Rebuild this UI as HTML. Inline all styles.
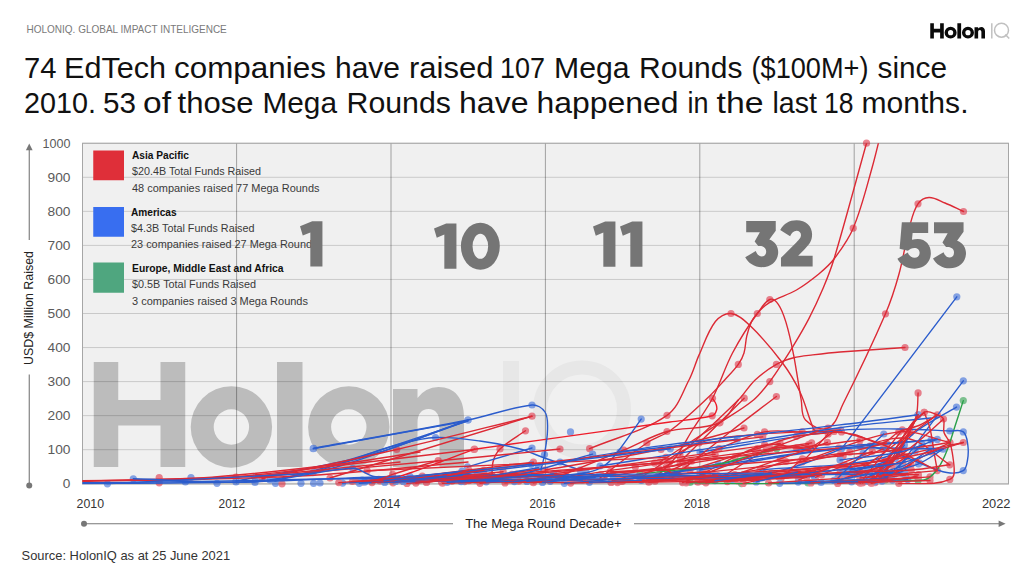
<!DOCTYPE html>
<html><head><meta charset="utf-8"><title>HolonIQ Mega Rounds</title>
<style>
html,body{margin:0;padding:0;background:#fff;}
body{width:1024px;height:576px;overflow:hidden;font-family:"Liberation Sans",sans-serif;}
svg{display:block;font-family:"Liberation Sans",sans-serif;}
</style></head><body>
<svg width="1024" height="576" viewBox="0 0 1024 576">

<rect width="1024" height="576" fill="#ffffff"/>
<!-- header -->
<text x="26.5" y="33.3" font-size="10.6" fill="#7a7a7a" textLength="200.3" lengthAdjust="spacingAndGlyphs">HOLONIQ. GLOBAL IMPACT INTELIGENCE</text>
<path fill="#0a0a0a" transform="translate(916.387,-28.759) scale(0.1479,0.1438)" fill-rule="evenodd" d="M93.75,362h24.5v38h42.25v-38h24.75v105h-24.75v-41.5h-42.25v41.5h-24.5z
M277,362h25.5v105h-25.5z
M393,389h24.5v9a27,27 0 0 1 21,-11c16,0 25.5,11 25.5,30v50h-24.5v-44c0,-9 -4,-14 -11,-14c-7,0 -11,5 -11,14v44h-24.5z
M190.7,427a40.7,40.7 0 1 0 81.4,0a40.7,40.7 0 1 0 -81.4,0zM213.7,427a17.7,17.7 0 1 0 35.4,0a17.7,17.7 0 1 0 -35.4,0z
M308.1,427a40.7,40.7 0 1 0 81.4,0a40.7,40.7 0 1 0 -81.4,0zM331.1,427a17.7,17.7 0 1 0 35.4,0a17.7,17.7 0 1 0 -35.4,0z"/>
<g fill="none" stroke="#c0c0c0" stroke-width="1.5"><line x1="991.8" y1="23.3" x2="991.8" y2="38.4"/><circle cx="1001.5" cy="30.2" r="7"/><line x1="1005.3" y1="34.6" x2="1009.2" y2="38.6"/></g>
<!-- title -->
<g font-size="30.2" fill="#111"><text x="24.0" y="78" textLength="32.5" lengthAdjust="spacingAndGlyphs">74</text><text x="64.0" y="78" textLength="102.0" lengthAdjust="spacingAndGlyphs">EdTech</text><text x="174.0" y="78" textLength="152.0" lengthAdjust="spacingAndGlyphs">companies</text><text x="335.0" y="78" textLength="65.0" lengthAdjust="spacingAndGlyphs">have</text><text x="409.0" y="78" textLength="84.5" lengthAdjust="spacingAndGlyphs">raised</text><text x="500.0" y="78" textLength="45.0" lengthAdjust="spacingAndGlyphs">107</text><text x="554.0" y="78" textLength="75.5" lengthAdjust="spacingAndGlyphs">Mega</text><text x="639.0" y="78" textLength="103.5" lengthAdjust="spacingAndGlyphs">Rounds</text><text x="751.5" y="78" textLength="117.0" lengthAdjust="spacingAndGlyphs">($100M+)</text><text x="877.5" y="78" textLength="69.5" lengthAdjust="spacingAndGlyphs">since</text><text x="24.0" y="113" textLength="72.0" lengthAdjust="spacingAndGlyphs">2010.</text><text x="103.0" y="113" textLength="33.0" lengthAdjust="spacingAndGlyphs">53</text><text x="143.0" y="113" textLength="28.0" lengthAdjust="spacingAndGlyphs">of</text><text x="177.5" y="113" textLength="76.0" lengthAdjust="spacingAndGlyphs">those</text><text x="262.5" y="113" textLength="74.5" lengthAdjust="spacingAndGlyphs">Mega</text><text x="346.5" y="113" textLength="104.5" lengthAdjust="spacingAndGlyphs">Rounds</text><text x="459.0" y="113" textLength="69.5" lengthAdjust="spacingAndGlyphs">have</text><text x="536.5" y="113" textLength="142.0" lengthAdjust="spacingAndGlyphs">happened</text><text x="687.5" y="113" textLength="21.0" lengthAdjust="spacingAndGlyphs">in</text><text x="716.5" y="113" textLength="47.0" lengthAdjust="spacingAndGlyphs">the</text><text x="772.5" y="113" textLength="44.5" lengthAdjust="spacingAndGlyphs">last</text><text x="824.0" y="113" textLength="29.5" lengthAdjust="spacingAndGlyphs">18</text><text x="861.5" y="113" textLength="107.0" lengthAdjust="spacingAndGlyphs">months.</text></g>
<!-- plot -->
<rect x="82.5" y="143.25" width="926" height="340.75" fill="#f0f0f0"/>

<!-- watermark -->
<g id="wm">
<path fill="#bcbcbc" fill-rule="evenodd" d="M93.75,362h24.5v38h42.25v-38h24.75v105h-24.75v-41.5h-42.25v41.5h-24.5z
M277,362h25.5v105h-25.5z
M393,389h24.5v9a27,27 0 0 1 21,-11c16,0 25.5,11 25.5,30v50h-24.5v-44c0,-9 -4,-14 -11,-14c-7,0 -11,5 -11,14v44h-24.5z
M190.7,427a40.7,40.7 0 1 0 81.4,0a40.7,40.7 0 1 0 -81.4,0zM213.7,427a17.7,17.7 0 1 0 35.4,0a17.7,17.7 0 1 0 -35.4,0z
M308.1,427a40.7,40.7 0 1 0 81.4,0a40.7,40.7 0 1 0 -81.4,0zM331.1,427a17.7,17.7 0 1 0 35.4,0a17.7,17.7 0 1 0 -35.4,0z"/>
<g fill="none" stroke="#e7e7e7">
<line x1="511" y1="361" x2="511" y2="467" stroke-width="16"/>
<circle cx="582" cy="409.5" r="42" stroke-width="14"/>
<line x1="606" y1="436" x2="632" y2="464" stroke-width="13"/>
</g>
</g>
<g stroke="#000" stroke-opacity="0.16" stroke-width="1">
<line x1="82.50" x2="1008.50" y1="483.75" y2="483.75"/>
<line x1="82.50" x2="1008.50" y1="449.70" y2="449.70"/>
<line x1="82.50" x2="1008.50" y1="415.65" y2="415.65"/>
<line x1="82.50" x2="1008.50" y1="381.60" y2="381.60"/>
<line x1="82.50" x2="1008.50" y1="347.55" y2="347.55"/>
<line x1="82.50" x2="1008.50" y1="313.50" y2="313.50"/>
<line x1="82.50" x2="1008.50" y1="279.45" y2="279.45"/>
<line x1="82.50" x2="1008.50" y1="245.40" y2="245.40"/>
<line x1="82.50" x2="1008.50" y1="211.35" y2="211.35"/>
<line x1="82.50" x2="1008.50" y1="177.30" y2="177.30"/>
<line x1="82.50" x2="1008.50" y1="143.25" y2="143.25"/>
</g>
<g stroke="#000" stroke-opacity="0.33" stroke-width="1">
<line x1="236.60" x2="236.60" y1="143.25" y2="484.00"/>
<line x1="391.00" x2="391.00" y1="143.25" y2="484.00"/>
<line x1="545.40" x2="545.40" y1="143.25" y2="484.00"/>
<line x1="699.80" x2="699.80" y1="143.25" y2="484.00"/>
<line x1="854.20" x2="854.20" y1="143.25" y2="484.00"/>
</g>
<rect x="82.5" y="143.25" width="926" height="340.75" fill="none" stroke="#a6a6a6" stroke-width="1"/>
<!-- legend -->
<rect x="93.25" y="150.5" width="30.75" height="29.75" fill="#df2f39"/>
<rect x="93.25" y="207" width="30.75" height="29.75" fill="#386ef0"/>
<rect x="93.25" y="262.5" width="30.75" height="30.25" fill="#4fa67f"/>
<g font-size="10.2" fill="#3a3a3a">
<text x="132" y="159.3" font-weight="bold" fill="#111" textLength="57" lengthAdjust="spacingAndGlyphs">Asia Pacific</text>
<text x="132" y="175" textLength="129" lengthAdjust="spacingAndGlyphs">$20.4B Total Funds Raised</text>
<text x="132" y="191.7" textLength="187.5" lengthAdjust="spacingAndGlyphs">48 companies raised 77 Mega Rounds</text>
<text x="131" y="215.7" font-weight="bold" fill="#111" textLength="45.5" lengthAdjust="spacingAndGlyphs">Americas</text>
<text x="131" y="232" textLength="123.5" lengthAdjust="spacingAndGlyphs">$4.3B Total Funds Raised</text>
<text x="131" y="248" textLength="186.5" lengthAdjust="spacingAndGlyphs">23 companies raised 27 Mega Rounds</text>
<text x="132" y="271.8" font-weight="bold" fill="#111" textLength="151.5" lengthAdjust="spacingAndGlyphs">Europe, Middle East and Africa</text>
<text x="132" y="288" textLength="124" lengthAdjust="spacingAndGlyphs">$0.5B Total Funds Raised</text>
<text x="132" y="304.5" textLength="176" lengthAdjust="spacingAndGlyphs">3 companies raised 3 Mega Rounds</text>
</g>
<!-- data -->
<clipPath id="cp"><rect x="82.5" y="143.25" width="926" height="341.2"/></clipPath>
<g opacity="0.55">
<circle cx="589.6" cy="448.7" r="3.6" fill="#de2238"/>
<circle cx="667.0" cy="415.3" r="3.6" fill="#de2238"/>
<circle cx="731.0" cy="313.5" r="3.6" fill="#de2238"/>
<circle cx="815.5" cy="431.0" r="3.6" fill="#de2238"/>
<circle cx="840.5" cy="430.0" r="3.6" fill="#de2238"/>
<circle cx="655.0" cy="478.0" r="3.6" fill="#de2238"/>
<circle cx="712.5" cy="398.3" r="3.6" fill="#de2238"/>
<circle cx="757.3" cy="313.5" r="3.6" fill="#de2238"/>
<circle cx="853.2" cy="228.2" r="3.6" fill="#de2238"/>
<circle cx="600.0" cy="478.0" r="3.6" fill="#de2238"/>
<circle cx="646.9" cy="443.0" r="3.6" fill="#de2238"/>
<circle cx="738.3" cy="364.4" r="3.6" fill="#de2238"/>
<circle cx="769.8" cy="299.5" r="3.6" fill="#de2238"/>
<circle cx="828.0" cy="428.0" r="3.6" fill="#de2238"/>
<circle cx="885.5" cy="313.8" r="3.6" fill="#de2238"/>
<circle cx="918.0" cy="203.8" r="3.6" fill="#de2238"/>
<circle cx="963.5" cy="211.5" r="3.6" fill="#de2238"/>
<circle cx="660.0" cy="462.0" r="3.6" fill="#de2238"/>
<circle cx="720.0" cy="422.6" r="3.6" fill="#de2238"/>
<circle cx="769.8" cy="381.6" r="3.6" fill="#de2238"/>
<circle cx="866.5" cy="143.2" r="3.6" fill="#de2238"/>
<circle cx="680.0" cy="455.0" r="3.6" fill="#de2238"/>
<circle cx="776.4" cy="364.4" r="3.6" fill="#de2238"/>
<circle cx="905.0" cy="347.5" r="3.6" fill="#de2238"/>
<circle cx="474.5" cy="449.2" r="3.6" fill="#de2238"/>
<circle cx="712.2" cy="415.8" r="3.6" fill="#de2238"/>
<circle cx="330.0" cy="478.0" r="3.6" fill="#de2238"/>
<circle cx="532.0" cy="416.2" r="3.6" fill="#de2238"/>
<circle cx="500.0" cy="449.0" r="3.6" fill="#de2238"/>
<circle cx="525.5" cy="430.8" r="3.6" fill="#de2238"/>
<circle cx="313.6" cy="448.3" r="3.6" fill="#2a60d8"/>
<circle cx="468.0" cy="420.0" r="3.6" fill="#2a60d8"/>
<circle cx="532.0" cy="405.0" r="3.6" fill="#2a60d8"/>
<circle cx="544.5" cy="454.5" r="3.6" fill="#2a60d8"/>
<circle cx="236.0" cy="481.0" r="3.6" fill="#2a60d8"/>
<circle cx="435.5" cy="437.5" r="3.6" fill="#2a60d8"/>
<circle cx="580.0" cy="470.0" r="3.6" fill="#2a60d8"/>
<circle cx="270.0" cy="480.0" r="3.6" fill="#2a60d8"/>
<circle cx="468.0" cy="420.0" r="3.6" fill="#2a60d8"/>
<circle cx="275.0" cy="481.0" r="3.6" fill="#2a60d8"/>
<circle cx="560.0" cy="478.0" r="3.6" fill="#2a60d8"/>
<circle cx="641.2" cy="419.1" r="3.6" fill="#2a60d8"/>
<circle cx="467.5" cy="466.8" r="3.6" fill="#2a60d8"/>
<circle cx="532.0" cy="448.0" r="3.6" fill="#2a60d8"/>
<circle cx="841.5" cy="448.8" r="3.6" fill="#2a60d8"/>
<circle cx="956.8" cy="296.8" r="3.6" fill="#2a60d8"/>
<circle cx="898.8" cy="466.9" r="3.6" fill="#2a60d8"/>
<circle cx="963.3" cy="380.8" r="3.6" fill="#2a60d8"/>
<circle cx="760.0" cy="470.0" r="3.6" fill="#2a60d8"/>
<circle cx="956.5" cy="407.1" r="3.6" fill="#2a60d8"/>
<circle cx="690.0" cy="482.5" r="3.6" fill="#1f9a40"/>
<circle cx="741.5" cy="483.6" r="3.6" fill="#1f9a40"/>
<circle cx="808.0" cy="483.0" r="3.6" fill="#1f9a40"/>
<circle cx="885.6" cy="479.8" r="3.6" fill="#1f9a40"/>
<circle cx="918.1" cy="480.4" r="3.6" fill="#1f9a40"/>
<circle cx="963.3" cy="400.6" r="3.6" fill="#1f9a40"/>
<circle cx="700.0" cy="452.0" r="3.6" fill="#2a60d8"/>
<circle cx="840.8" cy="430.4" r="3.6" fill="#2a60d8"/>
<circle cx="949.8" cy="431.0" r="3.6" fill="#2a60d8"/>
<circle cx="963.3" cy="431.9" r="3.6" fill="#2a60d8"/>
<circle cx="963.3" cy="470.6" r="3.6" fill="#2a60d8"/>
<circle cx="919.6" cy="463.0" r="3.6" fill="#2a60d8"/>
<circle cx="870.0" cy="446.0" r="3.6" fill="#2a60d8"/>
<circle cx="860.0" cy="470.0" r="3.6" fill="#de2238"/>
<circle cx="924.2" cy="412.3" r="3.6" fill="#de2238"/>
<circle cx="937.3" cy="414.8" r="3.6" fill="#de2238"/>
<circle cx="943.5" cy="419.0" r="3.6" fill="#de2238"/>
<circle cx="949.8" cy="442.5" r="3.6" fill="#de2238"/>
<circle cx="949.8" cy="479.4" r="3.6" fill="#de2238"/>
<circle cx="898.8" cy="483.5" r="3.6" fill="#de2238"/>
<circle cx="918.1" cy="392.9" r="3.6" fill="#de2238"/>
<circle cx="872.7" cy="481.5" r="3.6" fill="#de2238"/>
<circle cx="924.2" cy="412.3" r="3.6" fill="#de2238"/>
<circle cx="937.3" cy="470.6" r="3.6" fill="#de2238"/>
<circle cx="860.0" cy="446.0" r="3.6" fill="#de2238"/>
<circle cx="949.8" cy="464.8" r="3.6" fill="#de2238"/>
<circle cx="871.7" cy="478.3" r="3.6" fill="#de2238"/>
<circle cx="918.1" cy="414.8" r="3.6" fill="#de2238"/>
<circle cx="840.0" cy="470.0" r="3.6" fill="#de2238"/>
<circle cx="963.3" cy="442.5" r="3.6" fill="#de2238"/>
<circle cx="800.0" cy="462.0" r="3.6" fill="#de2238"/>
<circle cx="898.8" cy="431.9" r="3.6" fill="#de2238"/>
<circle cx="949.8" cy="442.5" r="3.6" fill="#de2238"/>
<circle cx="680.0" cy="462.0" r="3.6" fill="#de2238"/>
<circle cx="744.2" cy="398.2" r="3.6" fill="#de2238"/>
<circle cx="313.2" cy="448.7" r="3.6" fill="#2a60d8"/>
<circle cx="313.2" cy="472.7" r="3.6" fill="#2a60d8"/>
<circle cx="262.0" cy="478.7" r="3.6" fill="#de2238"/>
<circle cx="396.7" cy="449.5" r="3.6" fill="#de2238"/>
<circle cx="236.0" cy="477.0" r="3.6" fill="#de2238"/>
<circle cx="474.0" cy="449.5" r="3.6" fill="#de2238"/>
<circle cx="380.0" cy="481.0" r="3.6" fill="#de2238"/>
<circle cx="255.0" cy="477.5" r="3.6" fill="#de2238"/>
<circle cx="560.0" cy="449.0" r="3.6" fill="#de2238"/>
<circle cx="107.4" cy="483.8" r="3.6" fill="#2a60d8"/>
<circle cx="133.3" cy="478.8" r="3.6" fill="#2a60d8"/>
<circle cx="159.2" cy="477.5" r="3.6" fill="#de2238"/>
<circle cx="159.2" cy="482.8" r="3.6" fill="#de2238"/>
<circle cx="185.4" cy="482.0" r="3.6" fill="#2a60d8"/>
<circle cx="191.0" cy="477.5" r="3.6" fill="#2a60d8"/>
<circle cx="217.0" cy="483.3" r="3.6" fill="#2a60d8"/>
<circle cx="236.0" cy="482.0" r="3.6" fill="#2a60d8"/>
<circle cx="255.0" cy="477.5" r="3.6" fill="#2a60d8"/>
<circle cx="255.0" cy="482.5" r="3.6" fill="#2a60d8"/>
<circle cx="275.5" cy="483.3" r="3.6" fill="#2a60d8"/>
<circle cx="282.0" cy="483.8" r="3.6" fill="#de2238"/>
<circle cx="301.0" cy="483.3" r="3.6" fill="#2a60d8"/>
<circle cx="313.6" cy="483.3" r="3.6" fill="#2a60d8"/>
<circle cx="320.0" cy="483.0" r="3.6" fill="#2a60d8"/>
<circle cx="352.7" cy="468.3" r="3.6" fill="#2a60d8"/>
<circle cx="570.5" cy="431.9" r="3.6" fill="#2a60d8"/>
<circle cx="672.0" cy="478.0" r="3.6" fill="#de2238"/>
<circle cx="776.4" cy="396.5" r="3.6" fill="#de2238"/>
<circle cx="640.0" cy="478.0" r="3.6" fill="#de2238"/>
<circle cx="699.0" cy="443.0" r="3.6" fill="#de2238"/>
<circle cx="757.3" cy="434.4" r="3.6" fill="#de2238"/>
<circle cx="650.0" cy="480.0" r="3.6" fill="#de2238"/>
<circle cx="719.0" cy="448.7" r="3.6" fill="#de2238"/>
<circle cx="764.6" cy="431.9" r="3.6" fill="#de2238"/>
<circle cx="802.2" cy="431.9" r="3.6" fill="#de2238"/>
<circle cx="690.0" cy="470.0" r="3.6" fill="#de2238"/>
<circle cx="757.3" cy="448.7" r="3.6" fill="#de2238"/>
<circle cx="796.5" cy="436.3" r="3.6" fill="#de2238"/>
<circle cx="841.5" cy="431.9" r="3.6" fill="#de2238"/>
<circle cx="700.0" cy="475.0" r="3.6" fill="#de2238"/>
<circle cx="764.6" cy="444.9" r="3.6" fill="#de2238"/>
<circle cx="808.0" cy="447.8" r="3.6" fill="#de2238"/>
<circle cx="834.0" cy="431.5" r="3.6" fill="#de2238"/>
<circle cx="720.0" cy="478.0" r="3.6" fill="#de2238"/>
<circle cx="770.7" cy="448.7" r="3.6" fill="#de2238"/>
<circle cx="796.5" cy="447.8" r="3.6" fill="#de2238"/>
<circle cx="860.0" cy="440.0" r="3.6" fill="#de2238"/>
<circle cx="560.0" cy="476.0" r="3.6" fill="#de2238"/>
<circle cx="623.8" cy="450.0" r="3.6" fill="#de2238"/>
<circle cx="667.0" cy="431.5" r="3.6" fill="#de2238"/>
<circle cx="719.0" cy="423.0" r="3.6" fill="#de2238"/>
<circle cx="545.0" cy="470.0" r="3.6" fill="#de2238"/>
<circle cx="661.0" cy="449.5" r="3.6" fill="#de2238"/>
<circle cx="744.0" cy="428.0" r="3.6" fill="#de2238"/>
<circle cx="560.0" cy="462.0" r="3.6" fill="#2a60d8"/>
<circle cx="918.1" cy="414.8" r="3.6" fill="#2a60d8"/>
<circle cx="600.0" cy="466.0" r="3.6" fill="#2a60d8"/>
<circle cx="620.0" cy="452.0" r="3.6" fill="#2a60d8"/>
<circle cx="737.3" cy="439.2" r="3.6" fill="#2a60d8"/>
<circle cx="640.0" cy="478.0" r="3.6" fill="#2a60d8"/>
<circle cx="718.2" cy="464.0" r="3.6" fill="#2a60d8"/>
<circle cx="931.0" cy="440.2" r="3.6" fill="#2a60d8"/>
<circle cx="660.0" cy="475.0" r="3.6" fill="#2a60d8"/>
<circle cx="937.3" cy="439.4" r="3.6" fill="#2a60d8"/>
<circle cx="760.0" cy="476.0" r="3.6" fill="#2a60d8"/>
<circle cx="700.0" cy="470.0" r="3.6" fill="#2a60d8"/>
<circle cx="931.0" cy="448.8" r="3.6" fill="#2a60d8"/>
<circle cx="943.1" cy="449.2" r="3.6" fill="#2a60d8"/>
<circle cx="640.0" cy="474.0" r="3.6" fill="#1f9a40"/>
<circle cx="776.7" cy="448.8" r="3.6" fill="#1f9a40"/>
<circle cx="610.2" cy="473.0" r="3.6" fill="#de2238"/>
<circle cx="685.6" cy="468.2" r="3.6" fill="#de2238"/>
<circle cx="843.2" cy="455.8" r="3.6" fill="#de2238"/>
<circle cx="622.5" cy="481.2" r="3.6" fill="#de2238"/>
<circle cx="786.9" cy="475.1" r="3.6" fill="#de2238"/>
<circle cx="848.8" cy="473.0" r="3.6" fill="#de2238"/>
<circle cx="367.1" cy="470.7" r="3.6" fill="#de2238"/>
<circle cx="665.9" cy="457.4" r="3.6" fill="#de2238"/>
<circle cx="697.9" cy="482.2" r="3.6" fill="#de2238"/>
<circle cx="806.5" cy="477.4" r="3.6" fill="#de2238"/>
<circle cx="686.1" cy="482.8" r="3.6" fill="#de2238"/>
<circle cx="756.4" cy="475.7" r="3.6" fill="#de2238"/>
<circle cx="820.1" cy="469.4" r="3.6" fill="#de2238"/>
<circle cx="612.9" cy="480.5" r="3.6" fill="#de2238"/>
<circle cx="802.4" cy="461.8" r="3.6" fill="#de2238"/>
<circle cx="886.5" cy="443.3" r="3.6" fill="#de2238"/>
<circle cx="357.7" cy="481.4" r="3.6" fill="#de2238"/>
<circle cx="465.5" cy="474.6" r="3.6" fill="#de2238"/>
<circle cx="860.3" cy="482.7" r="3.6" fill="#de2238"/>
<circle cx="900.3" cy="469.1" r="3.6" fill="#de2238"/>
<circle cx="619.5" cy="478.6" r="3.6" fill="#de2238"/>
<circle cx="659.5" cy="469.0" r="3.6" fill="#de2238"/>
<circle cx="680.5" cy="459.6" r="3.6" fill="#de2238"/>
<circle cx="715.1" cy="454.3" r="3.6" fill="#de2238"/>
<circle cx="430.0" cy="477.5" r="3.6" fill="#de2238"/>
<circle cx="658.0" cy="476.0" r="3.6" fill="#de2238"/>
<circle cx="747.5" cy="477.5" r="3.6" fill="#de2238"/>
<circle cx="464.5" cy="481.6" r="3.6" fill="#de2238"/>
<circle cx="611.1" cy="482.3" r="3.6" fill="#de2238"/>
<circle cx="613.4" cy="479.3" r="3.6" fill="#de2238"/>
<circle cx="790.6" cy="474.0" r="3.6" fill="#de2238"/>
<circle cx="682.6" cy="482.6" r="3.6" fill="#de2238"/>
<circle cx="766.3" cy="450.2" r="3.6" fill="#de2238"/>
<circle cx="818.2" cy="431.0" r="3.6" fill="#de2238"/>
<circle cx="875.0" cy="482.7" r="3.6" fill="#de2238"/>
<circle cx="911.0" cy="464.6" r="3.6" fill="#de2238"/>
<circle cx="390.3" cy="479.8" r="3.6" fill="#de2238"/>
<circle cx="533.4" cy="462.2" r="3.6" fill="#de2238"/>
<circle cx="686.9" cy="479.8" r="3.6" fill="#de2238"/>
<circle cx="760.4" cy="469.4" r="3.6" fill="#de2238"/>
<circle cx="785.9" cy="461.5" r="3.6" fill="#de2238"/>
<circle cx="849.8" cy="452.2" r="3.6" fill="#de2238"/>
<circle cx="444.9" cy="478.5" r="3.6" fill="#de2238"/>
<circle cx="669.3" cy="462.3" r="3.6" fill="#de2238"/>
<circle cx="682.1" cy="461.0" r="3.6" fill="#de2238"/>
<circle cx="735.0" cy="457.0" r="3.6" fill="#de2238"/>
<circle cx="862.5" cy="483.0" r="3.6" fill="#de2238"/>
<circle cx="884.2" cy="471.5" r="3.6" fill="#de2238"/>
<circle cx="902.9" cy="448.8" r="3.6" fill="#de2238"/>
<circle cx="869.3" cy="479.6" r="3.6" fill="#de2238"/>
<circle cx="905.4" cy="475.1" r="3.6" fill="#de2238"/>
<circle cx="841.1" cy="479.5" r="3.6" fill="#de2238"/>
<circle cx="855.7" cy="474.1" r="3.6" fill="#de2238"/>
<circle cx="881.5" cy="466.6" r="3.6" fill="#de2238"/>
<circle cx="867.4" cy="477.6" r="3.6" fill="#de2238"/>
<circle cx="892.1" cy="465.5" r="3.6" fill="#de2238"/>
<circle cx="906.8" cy="456.6" r="3.6" fill="#de2238"/>
<circle cx="361.9" cy="482.2" r="3.6" fill="#de2238"/>
<circle cx="378.8" cy="479.4" r="3.6" fill="#de2238"/>
<circle cx="392.6" cy="474.4" r="3.6" fill="#de2238"/>
<circle cx="438.2" cy="460.5" r="3.6" fill="#de2238"/>
<circle cx="431.3" cy="478.7" r="3.6" fill="#de2238"/>
<circle cx="487.8" cy="479.4" r="3.6" fill="#de2238"/>
<circle cx="566.2" cy="480.1" r="3.6" fill="#de2238"/>
<circle cx="630.0" cy="478.7" r="3.6" fill="#de2238"/>
<circle cx="392.7" cy="480.7" r="3.6" fill="#de2238"/>
<circle cx="762.7" cy="436.9" r="3.6" fill="#de2238"/>
<circle cx="815.5" cy="477.3" r="3.6" fill="#de2238"/>
<circle cx="883.2" cy="448.9" r="3.6" fill="#de2238"/>
<circle cx="401.5" cy="480.5" r="3.6" fill="#de2238"/>
<circle cx="475.8" cy="476.4" r="3.6" fill="#de2238"/>
<circle cx="511.9" cy="474.4" r="3.6" fill="#de2238"/>
<circle cx="604.0" cy="477.0" r="3.6" fill="#de2238"/>
<circle cx="808.6" cy="444.6" r="3.6" fill="#de2238"/>
<circle cx="533.4" cy="482.7" r="3.6" fill="#de2238"/>
<circle cx="635.3" cy="466.9" r="3.6" fill="#de2238"/>
<circle cx="755.5" cy="451.1" r="3.6" fill="#de2238"/>
<circle cx="811.6" cy="442.9" r="3.6" fill="#de2238"/>
<circle cx="451.7" cy="480.6" r="3.6" fill="#de2238"/>
<circle cx="654.5" cy="463.1" r="3.6" fill="#de2238"/>
<circle cx="838.7" cy="448.1" r="3.6" fill="#de2238"/>
<circle cx="703.5" cy="481.5" r="3.6" fill="#de2238"/>
<circle cx="877.7" cy="469.9" r="3.6" fill="#de2238"/>
<circle cx="574.0" cy="479.8" r="3.6" fill="#de2238"/>
<circle cx="600.7" cy="474.5" r="3.6" fill="#de2238"/>
<circle cx="666.1" cy="467.1" r="3.6" fill="#de2238"/>
<circle cx="691.7" cy="461.1" r="3.6" fill="#de2238"/>
<circle cx="620.2" cy="481.4" r="3.6" fill="#de2238"/>
<circle cx="758.5" cy="473.6" r="3.6" fill="#de2238"/>
<circle cx="885.6" cy="460.9" r="3.6" fill="#de2238"/>
<circle cx="610.3" cy="471.6" r="3.6" fill="#de2238"/>
<circle cx="667.5" cy="470.3" r="3.6" fill="#de2238"/>
<circle cx="671.9" cy="473.3" r="3.6" fill="#de2238"/>
<circle cx="706.4" cy="471.6" r="3.6" fill="#de2238"/>
<circle cx="706.9" cy="480.9" r="3.6" fill="#de2238"/>
<circle cx="734.7" cy="474.5" r="3.6" fill="#de2238"/>
<circle cx="780.3" cy="458.9" r="3.6" fill="#de2238"/>
<circle cx="827.4" cy="442.3" r="3.6" fill="#de2238"/>
<circle cx="860.5" cy="476.1" r="3.6" fill="#de2238"/>
<circle cx="901.0" cy="455.5" r="3.6" fill="#de2238"/>
<circle cx="743.2" cy="483.4" r="3.6" fill="#de2238"/>
<circle cx="778.3" cy="476.7" r="3.6" fill="#de2238"/>
<circle cx="797.2" cy="475.4" r="3.6" fill="#de2238"/>
<circle cx="825.8" cy="469.6" r="3.6" fill="#de2238"/>
<circle cx="781.1" cy="478.6" r="3.6" fill="#de2238"/>
<circle cx="802.4" cy="458.8" r="3.6" fill="#de2238"/>
<circle cx="804.3" cy="459.8" r="3.6" fill="#de2238"/>
<circle cx="828.2" cy="433.9" r="3.6" fill="#de2238"/>
<circle cx="712.7" cy="474.3" r="3.6" fill="#de2238"/>
<circle cx="902.8" cy="463.3" r="3.6" fill="#de2238"/>
<circle cx="407.0" cy="483.4" r="3.6" fill="#de2238"/>
<circle cx="511.6" cy="475.1" r="3.6" fill="#de2238"/>
<circle cx="540.4" cy="475.4" r="3.6" fill="#de2238"/>
<circle cx="780.2" cy="443.4" r="3.6" fill="#de2238"/>
<circle cx="844.7" cy="473.6" r="3.6" fill="#2a60d8"/>
<circle cx="866.7" cy="467.6" r="3.6" fill="#2a60d8"/>
<circle cx="895.5" cy="458.4" r="3.6" fill="#2a60d8"/>
<circle cx="509.2" cy="476.7" r="3.6" fill="#2a60d8"/>
<circle cx="591.3" cy="476.5" r="3.6" fill="#2a60d8"/>
<circle cx="711.2" cy="475.5" r="3.6" fill="#2a60d8"/>
<circle cx="894.8" cy="473.9" r="3.6" fill="#2a60d8"/>
<circle cx="362.1" cy="480.2" r="3.6" fill="#2a60d8"/>
<circle cx="561.3" cy="475.8" r="3.6" fill="#2a60d8"/>
<circle cx="866.3" cy="478.1" r="3.6" fill="#2a60d8"/>
<circle cx="888.1" cy="464.8" r="3.6" fill="#2a60d8"/>
<circle cx="904.4" cy="445.1" r="3.6" fill="#2a60d8"/>
<circle cx="456.6" cy="474.8" r="3.6" fill="#2a60d8"/>
<circle cx="553.5" cy="474.7" r="3.6" fill="#2a60d8"/>
<circle cx="582.3" cy="474.6" r="3.6" fill="#2a60d8"/>
<circle cx="763.1" cy="473.1" r="3.6" fill="#2a60d8"/>
<circle cx="364.8" cy="482.1" r="3.6" fill="#2a60d8"/>
<circle cx="409.9" cy="476.3" r="3.6" fill="#2a60d8"/>
<circle cx="462.0" cy="471.8" r="3.6" fill="#2a60d8"/>
<circle cx="531.3" cy="464.3" r="3.6" fill="#2a60d8"/>
<circle cx="480.9" cy="479.5" r="3.6" fill="#2a60d8"/>
<circle cx="520.5" cy="474.1" r="3.6" fill="#2a60d8"/>
<circle cx="592.6" cy="454.2" r="3.6" fill="#2a60d8"/>
<circle cx="841.8" cy="473.5" r="3.6" fill="#2a60d8"/>
<circle cx="869.4" cy="471.5" r="3.6" fill="#2a60d8"/>
<circle cx="902.5" cy="473.5" r="3.6" fill="#2a60d8"/>
<circle cx="485.2" cy="480.1" r="3.6" fill="#2a60d8"/>
<circle cx="711.3" cy="477.9" r="3.6" fill="#2a60d8"/>
<circle cx="814.3" cy="476.6" r="3.6" fill="#2a60d8"/>
<circle cx="868.0" cy="481.3" r="3.6" fill="#2a60d8"/>
<circle cx="898.8" cy="472.5" r="3.6" fill="#2a60d8"/>
<circle cx="905.7" cy="469.6" r="3.6" fill="#2a60d8"/>
<circle cx="410.0" cy="480.6" r="3.6" fill="#2a60d8"/>
<circle cx="479.0" cy="472.0" r="3.6" fill="#2a60d8"/>
<circle cx="670.3" cy="448.8" r="3.6" fill="#2a60d8"/>
<circle cx="342.6" cy="483.1" r="3.6" fill="#2a60d8"/>
<circle cx="481.8" cy="476.6" r="3.6" fill="#2a60d8"/>
<circle cx="557.7" cy="476.1" r="3.6" fill="#2a60d8"/>
<circle cx="732.7" cy="480.2" r="3.6" fill="#2a60d8"/>
<circle cx="793.2" cy="474.3" r="3.6" fill="#2a60d8"/>
<circle cx="886.2" cy="465.2" r="3.6" fill="#2a60d8"/>
<circle cx="860.2" cy="483.1" r="3.6" fill="#de2238"/>
<circle cx="902.3" cy="429.9" r="3.6" fill="#de2238"/>
<circle cx="883.5" cy="474.7" r="3.6" fill="#de2238"/>
<circle cx="918.4" cy="474.7" r="3.6" fill="#de2238"/>
<circle cx="798.8" cy="479.9" r="3.6" fill="#de2238"/>
<circle cx="872.3" cy="451.3" r="3.6" fill="#de2238"/>
<circle cx="872.0" cy="482.9" r="3.6" fill="#de2238"/>
<circle cx="883.6" cy="474.5" r="3.6" fill="#de2238"/>
<circle cx="910.3" cy="432.7" r="3.6" fill="#de2238"/>
<circle cx="882.1" cy="481.1" r="3.6" fill="#2a60d8"/>
<circle cx="915.2" cy="451.1" r="3.6" fill="#2a60d8"/>
<circle cx="922.1" cy="444.4" r="3.6" fill="#2a60d8"/>
<circle cx="837.9" cy="477.9" r="3.6" fill="#2a60d8"/>
<circle cx="863.1" cy="453.3" r="3.6" fill="#2a60d8"/>
<circle cx="883.8" cy="434.0" r="3.6" fill="#2a60d8"/>
<circle cx="338.8" cy="482.6" r="3.6" fill="#de2238"/>
<circle cx="422.3" cy="476.1" r="3.6" fill="#de2238"/>
<circle cx="352.4" cy="481.5" r="3.6" fill="#de2238"/>
<circle cx="442.5" cy="478.7" r="3.6" fill="#de2238"/>
<circle cx="359.3" cy="483.3" r="3.6" fill="#2a60d8"/>
<circle cx="466.3" cy="478.1" r="3.6" fill="#2a60d8"/>
<circle cx="372.0" cy="482.6" r="3.6" fill="#de2238"/>
<circle cx="491.7" cy="475.0" r="3.6" fill="#de2238"/>
<circle cx="384.0" cy="480.8" r="3.6" fill="#2a60d8"/>
<circle cx="462.1" cy="471.1" r="3.6" fill="#2a60d8"/>
<circle cx="393.0" cy="482.8" r="3.6" fill="#de2238"/>
<circle cx="483.8" cy="470.4" r="3.6" fill="#de2238"/>
<circle cx="403.8" cy="481.7" r="3.6" fill="#de2238"/>
<circle cx="503.1" cy="471.7" r="3.6" fill="#de2238"/>
<circle cx="415.9" cy="483.1" r="3.6" fill="#de2238"/>
<circle cx="516.6" cy="474.0" r="3.6" fill="#de2238"/>
<circle cx="426.4" cy="482.4" r="3.6" fill="#de2238"/>
<circle cx="468.9" cy="470.0" r="3.6" fill="#de2238"/>
<circle cx="441.5" cy="481.9" r="3.6" fill="#de2238"/>
<circle cx="539.0" cy="469.3" r="3.6" fill="#de2238"/>
<circle cx="452.0" cy="481.2" r="3.6" fill="#de2238"/>
<circle cx="565.7" cy="474.4" r="3.6" fill="#de2238"/>
<circle cx="462.7" cy="480.9" r="3.6" fill="#2a60d8"/>
<circle cx="538.3" cy="467.7" r="3.6" fill="#2a60d8"/>
<circle cx="468.7" cy="480.7" r="3.6" fill="#de2238"/>
<circle cx="516.5" cy="477.0" r="3.6" fill="#de2238"/>
<circle cx="880.0" cy="478.0" r="3.6" fill="#de2238"/>
<circle cx="885.0" cy="470.0" r="3.6" fill="#de2238"/>
<circle cx="847.7" cy="478.3" r="3.6" fill="#de2238"/>
<circle cx="890.0" cy="476.0" r="3.6" fill="#de2238"/>
<circle cx="931.0" cy="452.0" r="3.6" fill="#de2238"/>
<circle cx="880.0" cy="474.0" r="3.6" fill="#2a60d8"/>
<circle cx="918.5" cy="463.8" r="3.6" fill="#2a60d8"/>
<circle cx="834.0" cy="480.4" r="3.6" fill="#2a60d8"/>
<circle cx="900.8" cy="466.9" r="3.6" fill="#2a60d8"/>
<circle cx="384.7" cy="482.4" r="3.6" fill="#2a60d8"/>
<circle cx="475.8" cy="480.2" r="3.6" fill="#2a60d8"/>
<circle cx="395.6" cy="481.4" r="3.6" fill="#2a60d8"/>
<circle cx="446.3" cy="475.9" r="3.6" fill="#2a60d8"/>
<circle cx="403.4" cy="481.4" r="3.6" fill="#2a60d8"/>
<circle cx="462.3" cy="475.4" r="3.6" fill="#2a60d8"/>
<circle cx="415.9" cy="482.1" r="3.6" fill="#de2238"/>
<circle cx="470.4" cy="477.6" r="3.6" fill="#de2238"/>
<circle cx="426.9" cy="481.8" r="3.6" fill="#de2238"/>
<circle cx="526.6" cy="474.3" r="3.6" fill="#de2238"/>
<circle cx="442.5" cy="483.2" r="3.6" fill="#de2238"/>
<circle cx="518.7" cy="481.2" r="3.6" fill="#de2238"/>
<circle cx="447.2" cy="482.3" r="3.6" fill="#2a60d8"/>
<circle cx="598.8" cy="476.0" r="3.6" fill="#2a60d8"/>
<circle cx="461.2" cy="481.7" r="3.6" fill="#2a60d8"/>
<circle cx="553.5" cy="473.9" r="3.6" fill="#2a60d8"/>
<circle cx="480.0" cy="483.3" r="3.6" fill="#de2238"/>
<circle cx="562.0" cy="476.3" r="3.6" fill="#de2238"/>
<circle cx="486.2" cy="481.8" r="3.6" fill="#2a60d8"/>
<circle cx="582.6" cy="480.0" r="3.6" fill="#2a60d8"/>
<circle cx="505.0" cy="482.9" r="3.6" fill="#de2238"/>
<circle cx="578.1" cy="479.4" r="3.6" fill="#de2238"/>
<circle cx="514.4" cy="481.6" r="3.6" fill="#2a60d8"/>
<circle cx="586.3" cy="472.6" r="3.6" fill="#2a60d8"/>
<circle cx="526.9" cy="481.4" r="3.6" fill="#2a60d8"/>
<circle cx="582.9" cy="477.0" r="3.6" fill="#2a60d8"/>
<circle cx="542.5" cy="482.4" r="3.6" fill="#2a60d8"/>
<circle cx="595.1" cy="477.5" r="3.6" fill="#2a60d8"/>
<circle cx="550.3" cy="481.3" r="3.6" fill="#2a60d8"/>
<circle cx="612.6" cy="475.0" r="3.6" fill="#2a60d8"/>
<circle cx="564.4" cy="483.3" r="3.6" fill="#2a60d8"/>
<circle cx="678.0" cy="474.2" r="3.6" fill="#2a60d8"/>
<circle cx="570.6" cy="483.1" r="3.6" fill="#de2238"/>
<circle cx="621.5" cy="481.3" r="3.6" fill="#de2238"/>
<circle cx="589.4" cy="482.3" r="3.6" fill="#2a60d8"/>
<circle cx="641.3" cy="480.5" r="3.6" fill="#2a60d8"/>
<circle cx="611.2" cy="482.4" r="3.6" fill="#de2238"/>
<circle cx="762.6" cy="477.6" r="3.6" fill="#de2238"/>
<circle cx="617.5" cy="482.6" r="3.6" fill="#de2238"/>
<circle cx="737.8" cy="480.8" r="3.6" fill="#de2238"/>
<circle cx="648.8" cy="482.2" r="3.6" fill="#de2238"/>
<circle cx="717.7" cy="475.7" r="3.6" fill="#de2238"/>
<circle cx="655.0" cy="481.2" r="3.6" fill="#de2238"/>
<circle cx="711.0" cy="475.2" r="3.6" fill="#de2238"/>
<circle cx="705.9" cy="482.8" r="3.6" fill="#de2238"/>
<circle cx="815.5" cy="470.8" r="3.6" fill="#de2238"/>
<circle cx="715.0" cy="480.7" r="3.6" fill="#2a60d8"/>
<circle cx="771.5" cy="473.0" r="3.6" fill="#2a60d8"/>
<circle cx="727.3" cy="481.6" r="3.6" fill="#de2238"/>
<circle cx="808.7" cy="472.1" r="3.6" fill="#de2238"/>
<circle cx="740.7" cy="481.0" r="3.6" fill="#de2238"/>
<circle cx="821.6" cy="475.0" r="3.6" fill="#de2238"/>
<circle cx="756.2" cy="481.9" r="3.6" fill="#2a60d8"/>
<circle cx="797.5" cy="472.1" r="3.6" fill="#2a60d8"/>
<circle cx="768.6" cy="483.0" r="3.6" fill="#de2238"/>
<circle cx="839.7" cy="478.4" r="3.6" fill="#de2238"/>
<circle cx="779.7" cy="483.3" r="3.6" fill="#2a60d8"/>
<circle cx="874.6" cy="482.0" r="3.6" fill="#2a60d8"/>
<circle cx="798.2" cy="482.1" r="3.6" fill="#2a60d8"/>
<circle cx="887.9" cy="478.4" r="3.6" fill="#2a60d8"/>
<circle cx="810.9" cy="482.9" r="3.6" fill="#de2238"/>
<circle cx="918.4" cy="477.5" r="3.6" fill="#de2238"/>
<circle cx="821.0" cy="482.5" r="3.6" fill="#2a60d8"/>
<circle cx="907.7" cy="479.6" r="3.6" fill="#2a60d8"/>
<circle cx="837.7" cy="483.4" r="3.6" fill="#de2238"/>
<circle cx="930.0" cy="480.5" r="3.6" fill="#de2238"/>
<circle cx="851.6" cy="481.8" r="3.6" fill="#2a60d8"/>
<circle cx="892.4" cy="480.1" r="3.6" fill="#2a60d8"/>
<circle cx="858.7" cy="481.8" r="3.6" fill="#de2238"/>
<circle cx="930.0" cy="476.9" r="3.6" fill="#de2238"/>
<circle cx="871.1" cy="483.2" r="3.6" fill="#de2238"/>
<circle cx="917.2" cy="476.1" r="3.6" fill="#de2238"/>
<circle cx="834.0" cy="431.5" r="3.6" fill="#de2238"/>
<circle cx="840.0" cy="455.0" r="3.6" fill="#de2238"/>
<circle cx="845.0" cy="465.0" r="3.6" fill="#de2238"/>
<circle cx="850.0" cy="472.0" r="3.6" fill="#de2238"/>
<circle cx="911.3" cy="470.0" r="3.6" fill="#de2238"/>
<circle cx="840.0" cy="460.0" r="3.6" fill="#2a60d8"/>
<circle cx="850.0" cy="470.0" r="3.6" fill="#2a60d8"/>
<circle cx="860.0" cy="478.0" r="3.6" fill="#de2238"/>
</g>
<g clip-path="url(#cp)" fill="none" stroke-width="1.4" stroke-linecap="round">
<path d="M589.6,448.7C615.4,437.6 643.9,431.3 667.0,415.3C678.4,407.4 682.5,392.2 689.0,380.0C693.2,372.0 695.4,363.1 699.1,354.9C704.2,343.6 707.8,331.3 715.4,321.5C719.0,316.9 725.2,312.9 731.0,313.5C738.3,314.3 744.4,320.2 749.7,325.3C761.6,336.7 772.3,349.4 782.2,362.5C789.1,371.7 795.1,381.6 800.0,392.0C805.0,402.6 807.7,414.1 812.0,425.0C812.9,427.2 813.2,430.6 815.5,431.0C823.7,432.4 832.2,430.3 840.5,430.0" stroke="#dc2a35"/>
<path d="M655.0,478.0C661.7,471.3 669.2,465.4 675.0,458.0C681.8,449.3 686.6,439.3 692.4,430.0C699.1,419.4 706.7,409.4 712.5,398.3C720.1,383.7 724.8,367.6 732.5,353.0C739.8,339.3 748.1,326.0 757.3,313.5C760.6,309.0 765.0,305.3 769.8,302.4C778.2,297.4 788.0,294.9 796.5,290.0C804.4,285.4 811.7,279.8 818.8,274.0C824.2,269.5 829.7,264.7 834.0,259.0C841.3,249.3 848.6,239.4 853.2,228.2C861.4,208.8 866.3,188.2 872.0,168.0C876.5,152.1 880.0,136.0 884.0,120.0" stroke="#dc2a35"/>
<path d="M600.0,478.0C615.6,466.3 630.7,453.9 646.9,443.0C654.5,437.9 663.7,435.4 671.0,430.0C684.0,420.4 695.7,409.0 707.5,398.0C713.7,392.3 719.2,385.9 724.9,379.7C729.5,374.7 734.4,369.9 738.3,364.4C740.8,360.9 742.8,357.1 744.0,353.0C745.7,347.4 745.4,341.4 746.8,335.8C748.0,330.9 749.5,326.0 751.6,321.5C753.0,318.5 755.2,316.0 757.3,313.5C761.3,308.7 764.1,302.0 769.8,299.5C772.8,298.2 776.4,301.6 778.3,304.3C782.1,309.7 784.1,316.1 786.0,322.4C789.2,333.0 791.5,344.0 793.6,354.9C796.5,369.9 798.5,385.0 801.2,400.0C802.4,406.7 800.8,415.1 805.5,420.0C811.0,425.8 820.7,431.1 828.0,428.0C836.7,424.3 838.8,412.4 843.0,404.0C857.9,374.3 872.3,344.3 885.5,313.8C891.0,300.9 895.3,287.5 899.0,274.0C903.5,257.9 905.6,241.2 910.0,225.0C912.0,217.7 913.7,210.0 918.0,203.8C920.4,200.3 924.8,197.6 929.0,197.5C934.6,197.3 939.8,200.9 945.0,203.0C951.3,205.6 957.3,208.7 963.5,211.5" stroke="#dc2a35"/>
<path d="M660.0,462.0C680.0,448.9 700.1,435.8 720.0,422.6C731.2,415.2 743.1,408.6 753.5,400.0C759.8,394.8 764.7,388.0 769.8,381.6C774.3,375.9 778.2,369.6 782.2,363.5C786.1,357.5 790.0,351.5 793.6,345.4C798.9,336.6 804.2,327.7 808.9,318.6C814.1,308.6 818.8,298.4 823.2,288.0C827.2,278.5 831.0,268.9 834.0,259.0C845.5,220.6 855.7,181.8 866.5,143.2" stroke="#dc2a35"/>
<path d="M680.0,455.0C699.4,436.7 719.4,418.9 738.3,400.0C744.6,393.7 748.9,385.7 755.4,379.7C761.7,373.8 768.9,368.7 776.4,364.4C781.7,361.3 787.7,359.4 793.6,357.8C799.8,356.2 806.3,355.7 812.7,354.9C821.8,353.8 830.9,352.7 840.0,352.0C861.6,350.3 883.3,349.0 905.0,347.5" stroke="#dc2a35"/>
<path d="M474.5,449.2C496.3,446.2 518.2,443.1 540.0,440.1C583.3,434.1 626.7,428.1 670.0,422.0C684.1,420.0 698.4,419.3 712.2,415.8C714.6,415.2 715.9,412.3 716.6,410.0C717.2,408.1 716.7,405.9 716.0,404.0C715.3,401.9 713.7,400.2 712.5,398.3" stroke="#ee1c2a"/>
<path d="M330.0,478.0L532.0,416.2" stroke="#dc2a35"/>
<path d="M492.0,481.0C492.3,474.7 491.5,468.2 493.0,462.0C494.2,457.2 496.5,452.4 500.0,449.0C507.5,441.8 517.0,436.8 525.5,430.8" stroke="#dc2a35"/>
<path d="M313.6,448.3C365.1,438.9 416.7,430.2 468.0,420.0C489.5,415.7 510.2,407.3 532.0,405.0C536.9,404.5 542.4,407.8 545.0,412.0C548.2,417.1 547.6,423.9 547.5,430.0C547.4,438.2 545.8,446.4 544.5,454.5C543.7,459.7 542.2,464.8 541.0,470.0" stroke="#2b5ccc"/>
<path d="M236.0,481.0C270.7,474.7 305.6,469.8 340.0,462.0C360.4,457.4 379.8,449.2 400.0,444.0C411.7,441.0 423.5,438.0 435.5,437.5C450.4,436.9 465.3,439.0 480.0,441.0C493.5,442.8 506.9,445.5 520.0,449.0C528.4,451.2 536.3,455.1 544.5,458.0C556.3,462.1 568.2,466.0 580.0,470.0" stroke="#2b5ccc"/>
<path d="M270.0,480.0C293.3,475.3 317.2,472.9 340.0,466.0C383.4,452.9 425.3,435.3 468.0,420.0" stroke="#2b5ccc"/>
<path d="M275.0,481.0C310.0,471.3 345.4,462.9 380.0,452.0C409.7,442.7 438.7,431.0 468.0,420.5" stroke="#2b5ccc"/>
<path d="M560.0,478.0C572.3,475.2 585.2,474.1 597.0,469.7C603.0,467.4 608.3,463.1 612.5,458.3C623.2,446.1 631.6,432.2 641.2,419.1" stroke="#2b5ccc"/>
<path d="M467.5,466.8L532.0,448.0" stroke="#2b5ccc"/>
<path d="M841.5,448.8L956.8,296.8" stroke="#2b5ccc"/>
<path d="M898.8,466.9L963.3,380.8" stroke="#2b5ccc"/>
<path d="M760.0,470.0C801.3,465.8 843.7,467.7 884.0,457.5C898.1,453.9 906.0,438.3 918.0,430.0C930.3,421.5 943.7,414.7 956.5,407.1" stroke="#2b5ccc"/>
<path d="M690.0,482.5C707.2,482.9 724.3,483.5 741.5,483.6C763.7,483.7 785.8,483.6 808.0,483.0C833.9,482.3 859.7,480.4 885.6,479.8C896.4,479.5 907.3,480.8 918.1,480.4C921.5,480.3 925.1,480.1 928.0,478.3C932.1,475.8 935.5,472.0 938.3,468.0C941.8,462.9 944.4,457.1 946.7,451.3C950.0,443.1 952.3,434.6 955.0,426.3C957.8,417.7 960.5,409.2 963.3,400.6" stroke="#2aa04a"/>
<path d="M700.0,452.0C746.9,444.8 793.6,435.9 840.8,430.4C859.7,428.2 878.9,428.9 898.0,429.0C915.3,429.1 932.5,430.2 949.8,431.0C954.3,431.2 959.7,429.1 963.3,431.9C966.9,434.7 967.1,440.4 967.8,445.0C968.5,449.9 968.4,455.1 967.5,460.0C966.8,463.7 966.6,468.6 963.3,470.6C958.5,473.5 952.2,473.5 946.7,472.5C937.3,470.9 928.6,466.4 919.6,463.0C913.0,460.5 906.7,457.3 900.0,455.0C890.1,451.6 880.0,449.0 870.0,446.0" stroke="#2b5ccc"/>
<path d="M860.0,470.0C873.3,460.0 887.6,451.1 900.0,440.0C909.1,431.8 914.0,419.2 924.2,412.3C927.9,409.8 933.1,413.3 937.3,414.8C939.7,415.6 942.6,416.7 943.5,419.0C945.1,423.2 942.8,428.2 944.0,432.5C945.0,436.2 948.5,438.9 949.8,442.5C951.5,447.3 952.3,452.4 953.0,457.5C953.7,463.0 954.8,468.7 954.0,474.2C953.7,476.4 951.8,478.5 949.8,479.4C944.9,481.6 939.4,482.9 934.0,483.3C922.3,484.2 910.5,483.4 898.8,483.5" stroke="#dc2a35"/>
<path d="M918.1,392.9C917.6,400.2 918.1,407.7 916.5,414.8C915.1,421.0 912.5,427.2 909.0,432.5C903.6,440.7 895.8,447.1 890.0,455.0C883.7,463.5 878.5,472.7 872.7,481.5" stroke="#dc2a35"/>
<path d="M924.2,412.3C926.1,417.6 928.7,422.8 930.0,428.3C932.0,436.5 932.8,445.0 934.2,453.3C935.2,459.1 936.3,464.8 937.3,470.6" stroke="#dc2a35"/>
<path d="M860.0,446.0C876.3,443.6 892.8,435.4 909.0,438.8C924.8,442.1 936.2,456.1 949.8,464.8" stroke="#dc2a35"/>
<path d="M871.7,478.3C878.6,469.9 886.0,461.8 892.5,453.0C898.4,445.0 903.4,436.3 909.0,428.0C912.0,423.6 915.1,419.2 918.1,414.8" stroke="#dc2a35"/>
<path d="M840.0,470.0C864.3,464.3 888.6,458.4 913.0,453.0C929.7,449.3 946.5,446.0 963.3,442.5" stroke="#dc2a35"/>
<path d="M800.0,462.0C832.9,452.0 864.7,436.3 898.8,431.9C916.0,429.7 932.8,439.0 949.8,442.5" stroke="#dc2a35"/>
<path d="M680.0,462.0L744.2,398.2" stroke="#dc2a35"/>
<path d="M313.2,448.7L467.9,420.9" stroke="#2b5ccc"/>
<path d="M313.2,472.7L467.9,420.9" stroke="#2b5ccc"/>
<path d="M262.0,478.7C306.9,469.0 351.9,459.9 396.7,449.5C441.9,439.0 486.9,427.3 532.0,416.2" stroke="#dc2a35"/>
<path d="M236.0,477.0C257.3,474.7 278.7,472.5 300.0,470.0C358.0,463.3 416.0,456.3 474.0,449.5" stroke="#dc2a35"/>
<path d="M380.0,481.0C388.5,478.8 397.2,477.3 405.5,474.5C428.7,466.7 451.5,457.7 474.5,449.2" stroke="#ee1c2a"/>
<path d="M255.0,477.5C330.0,470.7 405.0,464.0 480.0,457.0C506.7,454.5 533.3,451.7 560.0,449.0" stroke="#dc2a35"/>
<path d="M60.0,481.0C106.7,480.0 153.4,480.8 200.0,478.0C246.8,475.2 293.4,469.5 340.0,464.0C366.8,460.8 393.3,456.0 420.0,452.0" stroke="#dc2a35"/>
<path d="M60.0,481.5C123.3,479.7 186.7,479.6 250.0,476.0C300.1,473.1 350.0,466.7 400.0,462.0" stroke="#dc2a35"/>
<path d="M60.0,482.0C140.0,480.0 220.1,479.9 300.0,476.0C356.1,473.2 412.0,466.7 468.0,462.0" stroke="#dc2a35"/>
<path d="M60.0,483.0C106.7,482.5 153.3,482.2 200.0,481.5C240.0,480.9 280.0,479.6 320.0,479.0C353.3,478.5 386.7,478.3 420.0,478.0" stroke="#2b5ccc"/>
<path d="M60.0,483.6C118.7,483.1 177.3,483.3 236.0,482.0C290.7,480.8 345.3,478.0 400.0,476.0" stroke="#2b5ccc"/>
<path d="M107.0,483.8L313.6,473.2" stroke="#2b5ccc"/>
<path d="M133.3,478.8C173.9,479.9 214.5,483.9 255.0,482.0C287.8,480.4 319.8,469.8 352.7,468.3C360.2,468.0 366.4,475.2 373.8,476.5C389.0,479.1 404.6,478.8 420.0,480.0" stroke="#2b5ccc"/>
<path d="M672.0,478.0C692.2,462.0 712.2,445.8 732.5,430.0C747.0,418.7 761.8,407.7 776.4,396.5" stroke="#dc2a35"/>
<path d="M640.0,478.0C659.7,466.3 677.6,451.0 699.0,443.0C717.4,436.2 737.8,436.4 757.3,434.4C776.7,432.4 796.2,432.3 815.6,431.2" stroke="#dc2a35"/>
<path d="M650.0,480.0C673.0,469.6 695.7,458.5 719.0,448.7C733.9,442.4 748.7,435.1 764.6,431.9C776.9,429.4 789.7,431.9 802.2,431.9" stroke="#dc2a35"/>
<path d="M690.0,470.0C712.4,462.9 734.9,455.8 757.3,448.7C770.4,444.6 783.1,439.0 796.5,436.3C811.3,433.4 826.5,433.4 841.5,431.9" stroke="#dc2a35"/>
<path d="M700.0,475.0C721.5,465.0 741.6,450.7 764.6,444.9C778.7,441.4 793.8,450.5 808.0,447.8C818.0,445.9 825.3,436.9 834.0,431.5" stroke="#dc2a35"/>
<path d="M720.0,478.0C736.9,468.2 752.5,455.9 770.7,448.7C778.7,445.5 787.9,448.6 796.5,447.8C817.7,445.7 838.8,442.6 860.0,440.0" stroke="#dc2a35"/>
<path d="M560.0,476.0C581.2,467.3 602.6,458.8 623.8,450.0C638.2,444.0 651.9,435.8 667.0,431.5C683.9,426.7 702.9,430.1 719.0,423.0C728.2,419.0 731.9,407.7 738.3,400.0" stroke="#dc2a35"/>
<path d="M545.0,470.0C583.7,463.2 622.4,457.0 661.0,449.5C674.1,447.0 687.0,443.4 700.0,440.0C714.7,436.2 729.3,432.0 744.0,428.0" stroke="#dc2a35"/>
<path d="M560.0,462.0C593.3,456.6 626.5,450.3 660.0,445.9C719.9,438.0 780.0,432.1 840.0,424.9C866.1,421.8 892.1,418.2 918.1,414.8" stroke="#2b5ccc"/>
<path d="M600.0,466.0C620.0,462.8 640.0,459.6 660.0,456.4C720.0,446.8 779.8,436.2 840.0,427.7C870.2,423.4 900.7,421.2 931.0,418.0" stroke="#2b5ccc"/>
<path d="M620.0,452.0L737.3,439.2" stroke="#2b5ccc"/>
<path d="M640.0,478.0C666.1,473.3 692.1,468.6 718.2,464.0C745.4,459.2 772.5,453.1 800.0,450.0C843.5,445.1 887.3,443.5 931.0,440.2" stroke="#2b5ccc"/>
<path d="M660.0,475.0C709.3,467.3 758.5,458.4 808.0,452.0C851.0,446.5 894.2,443.6 937.3,439.4" stroke="#2b5ccc"/>
<path d="M760.0,476.0C773.3,472.3 786.9,469.4 800.0,465.0C814.1,460.3 827.7,454.2 841.5,448.8" stroke="#2b5ccc"/>
<path d="M700.0,470.0C746.9,462.9 793.5,453.1 840.8,448.8C870.7,446.1 900.9,448.7 931.0,448.8C935.0,448.8 939.1,449.1 943.1,449.2" stroke="#2b5ccc"/>
<path d="M640.0,474.0C664.0,471.2 688.1,469.4 712.0,465.6C722.5,463.9 732.7,460.5 743.0,457.8C754.3,454.9 765.5,451.8 776.7,448.8" stroke="#2aa04a"/>
<path d="M610.2,473.0C635.4,471.4 660.5,470.0 685.6,468.2C738.2,464.3 790.7,459.9 843.2,455.8" stroke="#dc2a35"/>
<path d="M622.5,481.2C677.3,479.2 732.1,477.1 786.9,475.1C807.5,474.4 828.2,473.7 848.8,473.0" stroke="#dc2a35"/>
<path d="M367.1,470.7L665.9,457.4" stroke="#dc2a35"/>
<path d="M697.9,482.2L806.5,477.4" stroke="#dc2a35"/>
<path d="M686.1,482.8C709.5,480.4 733.0,478.0 756.4,475.7C777.7,473.5 798.9,471.5 820.1,469.4" stroke="#dc2a35"/>
<path d="M612.9,480.5C676.0,474.3 739.5,470.3 802.4,461.8C830.9,457.9 858.5,449.4 886.5,443.3" stroke="#dc2a35"/>
<path d="M357.7,481.4L465.5,474.6" stroke="#dc2a35"/>
<path d="M860.3,482.7L900.3,469.1" stroke="#dc2a35"/>
<path d="M619.5,478.6C632.8,475.4 646.4,473.1 659.5,469.0C666.9,466.7 673.1,461.6 680.5,459.6C691.8,456.6 703.5,456.1 715.1,454.3" stroke="#dc2a35"/>
<path d="M430.0,477.5C506.0,477.0 582.0,476.0 658.0,476.0C687.8,476.0 717.6,477.0 747.5,477.5" stroke="#dc2a35"/>
<path d="M464.5,481.6C513.3,481.9 562.2,483.1 611.1,482.3C612.3,482.3 612.1,479.3 613.4,479.3C672.5,476.5 731.6,475.8 790.6,474.0" stroke="#dc2a35"/>
<path d="M682.6,482.6C710.5,471.8 738.3,460.8 766.3,450.2C783.5,443.6 800.9,437.4 818.2,431.0" stroke="#dc2a35"/>
<path d="M875.0,482.7L911.0,464.6" stroke="#dc2a35"/>
<path d="M390.3,479.8L533.4,462.2" stroke="#dc2a35"/>
<path d="M686.9,479.8C711.4,476.3 736.1,473.9 760.4,469.4C769.1,467.7 777.2,463.1 785.9,461.5C807.1,457.4 828.5,455.3 849.8,452.2" stroke="#dc2a35"/>
<path d="M444.9,478.5C519.7,473.1 594.5,467.8 669.3,462.3C673.6,462.0 677.8,461.3 682.1,461.0C699.8,459.6 717.4,458.3 735.0,457.0" stroke="#dc2a35"/>
<path d="M862.5,483.0C869.8,479.2 878.0,476.8 884.2,471.5C891.7,465.1 896.7,456.3 902.9,448.8" stroke="#dc2a35"/>
<path d="M869.3,479.6L905.4,475.1" stroke="#dc2a35"/>
<path d="M841.1,479.5C846.0,477.7 850.8,475.7 855.7,474.1C864.2,471.4 872.9,469.1 881.5,466.6" stroke="#dc2a35"/>
<path d="M867.4,477.6C875.6,473.6 884.0,469.8 892.1,465.5C897.1,462.8 901.9,459.6 906.8,456.6" stroke="#dc2a35"/>
<path d="M361.9,482.2C367.5,481.3 373.3,480.9 378.8,479.4C383.6,478.2 387.9,475.9 392.6,474.4C407.7,469.5 423.0,465.1 438.2,460.5" stroke="#dc2a35"/>
<path d="M431.3,478.7C450.1,478.9 468.9,479.2 487.8,479.4C513.9,479.7 540.1,480.3 566.2,480.1C587.5,480.0 608.7,479.2 630.0,478.7" stroke="#dc2a35"/>
<path d="M392.7,480.7L762.7,436.9" stroke="#dc2a35"/>
<path d="M815.5,477.3L883.2,448.9" stroke="#dc2a35"/>
<path d="M401.5,480.5C426.3,479.1 451.1,477.8 475.8,476.4C487.9,475.7 499.9,475.0 511.9,474.4" stroke="#dc2a35"/>
<path d="M604.0,477.0L808.6,444.6" stroke="#dc2a35"/>
<path d="M533.4,482.7C567.3,477.4 601.3,471.7 635.3,466.9C675.3,461.2 715.5,456.5 755.5,451.1C774.2,448.5 792.9,445.6 811.6,442.9" stroke="#dc2a35"/>
<path d="M451.7,480.6C519.3,474.7 586.9,468.8 654.5,463.1C715.9,457.9 777.3,453.1 838.7,448.1" stroke="#dc2a35"/>
<path d="M703.5,481.5L877.7,469.9" stroke="#dc2a35"/>
<path d="M574.0,479.8C582.9,478.1 591.7,475.8 600.7,474.5C622.4,471.5 644.4,470.3 666.1,467.1C674.7,465.8 683.2,463.1 691.7,461.1" stroke="#dc2a35"/>
<path d="M620.2,481.4C666.3,478.8 712.4,477.1 758.5,473.6C800.9,470.3 843.2,465.1 885.6,460.9" stroke="#dc2a35"/>
<path d="M610.3,471.6C629.4,471.1 648.4,469.7 667.5,470.3C669.3,470.3 670.1,473.3 671.9,473.3C683.4,473.7 694.9,472.2 706.4,471.6" stroke="#dc2a35"/>
<path d="M706.9,480.9C716.1,478.8 725.6,477.2 734.7,474.5C750.1,469.9 765.1,464.2 780.3,458.9C796.0,453.4 811.7,447.8 827.4,442.3" stroke="#dc2a35"/>
<path d="M860.5,476.1L901.0,455.5" stroke="#dc2a35"/>
<path d="M743.2,483.4C754.9,481.2 766.5,478.4 778.3,476.7C784.5,475.7 790.9,476.3 797.2,475.4C806.8,474.0 816.3,471.5 825.8,469.6" stroke="#dc2a35"/>
<path d="M781.1,478.6C788.2,472.0 794.9,464.9 802.4,458.8C802.9,458.4 803.8,460.3 804.3,459.8C812.8,451.6 820.2,442.6 828.2,433.9" stroke="#dc2a35"/>
<path d="M712.7,474.3L902.8,463.3" stroke="#dc2a35"/>
<path d="M407.0,483.4C441.9,480.7 476.7,477.2 511.6,475.1C521.2,474.5 530.9,476.6 540.4,475.4C620.5,466.0 700.2,454.1 780.2,443.4" stroke="#dc2a35"/>
<path d="M844.7,473.6C852.0,471.6 859.4,469.8 866.7,467.6C876.3,464.7 885.9,461.5 895.5,458.4" stroke="#2b5ccc"/>
<path d="M509.2,476.7C536.6,476.6 563.9,476.6 591.3,476.5C631.2,476.2 671.2,475.8 711.2,475.5C772.4,475.0 833.6,474.4 894.8,473.9" stroke="#2b5ccc"/>
<path d="M362.1,480.2L561.3,475.8" stroke="#2b5ccc"/>
<path d="M866.3,478.1C873.6,473.7 881.7,470.4 888.1,464.8C894.6,459.2 899.0,451.7 904.4,445.1" stroke="#2b5ccc"/>
<path d="M456.6,474.8C488.9,474.8 521.2,474.8 553.5,474.7C563.1,474.7 572.7,474.7 582.3,474.6C642.6,474.1 702.9,473.6 763.1,473.1" stroke="#2b5ccc"/>
<path d="M364.8,482.1C379.9,480.2 394.9,477.9 409.9,476.3C427.2,474.5 444.6,473.5 462.0,471.8C485.1,469.5 508.2,466.8 531.3,464.3" stroke="#2b5ccc"/>
<path d="M480.9,479.5C494.1,477.7 507.5,477.0 520.5,474.1C544.8,468.6 568.6,460.8 592.6,454.2" stroke="#2b5ccc"/>
<path d="M841.8,473.5C851.0,472.9 860.2,471.5 869.4,471.5C880.5,471.5 891.5,472.9 902.5,473.5" stroke="#2b5ccc"/>
<path d="M485.2,480.1C560.5,479.3 635.9,478.7 711.3,477.9C745.6,477.5 780.0,477.0 814.3,476.6" stroke="#2b5ccc"/>
<path d="M868.0,481.3C878.3,478.3 888.6,475.6 898.8,472.5C901.2,471.8 903.4,470.6 905.7,469.6" stroke="#2b5ccc"/>
<path d="M410.0,480.6C433.0,477.7 456.0,474.8 479.0,472.0C542.7,464.2 606.5,456.5 670.3,448.8" stroke="#2b5ccc"/>
<path d="M342.6,483.1C389.0,480.9 435.4,478.1 481.8,476.6C507.1,475.8 532.4,476.3 557.7,476.1" stroke="#2b5ccc"/>
<path d="M732.7,480.2C752.9,478.2 773.0,476.3 793.2,474.3C824.2,471.3 855.2,468.2 886.2,465.2" stroke="#2b5ccc"/>
<path d="M860.2,483.1L902.3,429.9" stroke="#dc2a35"/>
<path d="M883.5,474.7L918.4,474.7" stroke="#dc2a35"/>
<path d="M798.8,479.9L872.3,451.3" stroke="#dc2a35"/>
<path d="M872.0,482.9C875.8,480.1 880.7,478.3 883.6,474.5C893.7,461.4 901.4,446.6 910.3,432.7" stroke="#dc2a35"/>
<path d="M882.1,481.1C893.2,471.1 904.3,461.1 915.2,451.1C917.6,448.9 919.8,446.6 922.1,444.4" stroke="#2b5ccc"/>
<path d="M837.9,477.9C846.3,469.7 854.7,461.4 863.1,453.3C869.9,446.8 876.9,440.5 883.8,434.0" stroke="#2b5ccc"/>
<path d="M338.8,482.6L422.3,476.1" stroke="#dc2a35"/>
<path d="M352.4,481.5L442.5,478.7" stroke="#dc2a35"/>
<path d="M359.3,483.3L466.3,478.1" stroke="#2b5ccc"/>
<path d="M372.0,482.6L491.7,475.0" stroke="#dc2a35"/>
<path d="M384.0,480.8L462.1,471.1" stroke="#2b5ccc"/>
<path d="M393.0,482.8L483.8,470.4" stroke="#dc2a35"/>
<path d="M403.8,481.7L503.1,471.7" stroke="#dc2a35"/>
<path d="M415.9,483.1L516.6,474.0" stroke="#dc2a35"/>
<path d="M426.4,482.4L468.9,470.0" stroke="#dc2a35"/>
<path d="M441.5,481.9L539.0,469.3" stroke="#dc2a35"/>
<path d="M452.0,481.2L565.7,474.4" stroke="#dc2a35"/>
<path d="M462.7,480.9L538.3,467.7" stroke="#2b5ccc"/>
<path d="M468.7,480.7L516.5,477.0" stroke="#dc2a35"/>
<path d="M872.7,481.5C880.1,471.0 887.8,460.6 895.0,450.0C900.6,441.8 904.9,432.8 911.0,425.0C914.7,420.2 919.8,416.5 924.2,412.3" stroke="#dc2a35"/>
<path d="M880.0,478.0C887.3,467.3 895.3,457.1 902.0,446.0C908.0,436.0 912.7,425.2 918.1,414.8" stroke="#dc2a35"/>
<path d="M885.0,470.0C891.7,460.0 896.7,448.7 905.0,440.0C914.4,430.1 926.5,423.2 937.3,414.8" stroke="#dc2a35"/>
<path d="M847.7,478.3C861.8,472.9 876.6,469.1 890.0,462.0C901.0,456.2 910.3,447.8 920.0,440.0C928.2,433.4 935.7,426.0 943.5,419.0" stroke="#dc2a35"/>
<path d="M890.0,476.0C903.7,468.0 917.2,459.7 931.0,452.0C937.1,448.6 943.5,445.7 949.8,442.5" stroke="#dc2a35"/>
<path d="M880.0,474.0C892.8,470.6 906.1,468.7 918.5,463.8C927.4,460.3 934.9,454.1 943.1,449.2" stroke="#2b5ccc"/>
<path d="M834.0,480.4C856.3,475.9 879.2,473.9 900.8,466.9C912.0,463.3 920.9,454.8 931.0,448.8" stroke="#2b5ccc"/>
<path d="M384.7,482.4L475.8,480.2" stroke="#2b5ccc"/>
<path d="M395.6,481.4L446.3,475.9" stroke="#2b5ccc"/>
<path d="M403.4,481.4L462.3,475.4" stroke="#2b5ccc"/>
<path d="M415.9,482.1L470.4,477.6" stroke="#dc2a35"/>
<path d="M426.9,481.8L526.6,474.3" stroke="#dc2a35"/>
<path d="M442.5,483.2L518.7,481.2" stroke="#dc2a35"/>
<path d="M447.2,482.3L598.8,476.0" stroke="#2b5ccc"/>
<path d="M461.2,481.7L553.5,473.9" stroke="#2b5ccc"/>
<path d="M480.0,483.3L562.0,476.3" stroke="#dc2a35"/>
<path d="M486.2,481.8L582.6,480.0" stroke="#2b5ccc"/>
<path d="M505.0,482.9L578.1,479.4" stroke="#dc2a35"/>
<path d="M514.4,481.6L586.3,472.6" stroke="#2b5ccc"/>
<path d="M526.9,481.4L582.9,477.0" stroke="#2b5ccc"/>
<path d="M542.5,482.4L595.1,477.5" stroke="#2b5ccc"/>
<path d="M550.3,481.3L612.6,475.0" stroke="#2b5ccc"/>
<path d="M564.4,483.3L678.0,474.2" stroke="#2b5ccc"/>
<path d="M570.6,483.1L621.5,481.3" stroke="#dc2a35"/>
<path d="M589.4,482.3L641.3,480.5" stroke="#2b5ccc"/>
<path d="M611.2,482.4L762.6,477.6" stroke="#dc2a35"/>
<path d="M617.5,482.6L737.8,480.8" stroke="#dc2a35"/>
<path d="M648.8,482.2L717.7,475.7" stroke="#dc2a35"/>
<path d="M655.0,481.2L711.0,475.2" stroke="#dc2a35"/>
<path d="M705.9,482.8L815.5,470.8" stroke="#dc2a35"/>
<path d="M715.0,480.7L771.5,473.0" stroke="#2b5ccc"/>
<path d="M727.3,481.6L808.7,472.1" stroke="#dc2a35"/>
<path d="M740.7,481.0L821.6,475.0" stroke="#dc2a35"/>
<path d="M756.2,481.9L797.5,472.1" stroke="#2b5ccc"/>
<path d="M768.6,483.0L839.7,478.4" stroke="#dc2a35"/>
<path d="M779.7,483.3L874.6,482.0" stroke="#2b5ccc"/>
<path d="M798.2,482.1L887.9,478.4" stroke="#2b5ccc"/>
<path d="M810.9,482.9L918.4,477.5" stroke="#dc2a35"/>
<path d="M821.0,482.5L907.7,479.6" stroke="#2b5ccc"/>
<path d="M837.7,483.4L930.0,480.5" stroke="#dc2a35"/>
<path d="M851.6,481.8L892.4,480.1" stroke="#2b5ccc"/>
<path d="M858.7,481.8L930.0,476.9" stroke="#dc2a35"/>
<path d="M871.1,483.2L917.2,476.1" stroke="#dc2a35"/>
<path d="M834.0,431.5C841.0,432.5 848.1,433.0 855.0,434.6C864.2,436.8 872.6,443.6 882.0,443.0C888.7,442.6 892.7,434.8 898.8,431.9C905.5,428.7 913.2,428.0 920.0,425.0C926.1,422.3 931.5,418.2 937.3,414.8" stroke="#dc2a35"/>
<path d="M841.5,431.9C851.0,434.6 860.7,436.8 870.0,440.0C880.2,443.5 890.2,447.5 900.0,452.0C912.6,457.8 924.9,464.4 937.3,470.6" stroke="#dc2a35"/>
<path d="M840.0,455.0C853.3,454.0 866.7,453.3 880.0,452.0C893.4,450.7 906.7,448.8 920.0,447.0C930.0,445.6 939.9,444.0 949.8,442.5" stroke="#dc2a35"/>
<path d="M845.0,465.0C860.0,463.3 875.1,462.3 890.0,460.0C903.4,457.9 916.8,455.2 930.0,452.0C941.2,449.3 952.2,445.7 963.3,442.5" stroke="#dc2a35"/>
<path d="M850.0,472.0C870.4,471.3 890.9,471.5 911.3,470.0C924.2,469.1 937.0,466.5 949.8,464.8" stroke="#dc2a35"/>
<path d="M840.0,460.0C860.0,457.3 880.3,456.2 900.0,452.0C912.8,449.3 924.9,443.6 937.3,439.4" stroke="#2b5ccc"/>
<path d="M850.0,470.0C868.3,467.3 886.9,466.0 905.0,462.0C918.1,459.1 930.4,453.5 943.1,449.2" stroke="#2b5ccc"/>
<path d="M860.0,478.0C873.3,476.7 886.7,475.3 900.0,474.0C912.4,472.8 924.9,471.7 937.3,470.6" stroke="#dc2a35"/>
</g>

<g fill="#757575"><path d="M 300.00,226.30 L 312.22,221.30 L 322.44,221.30 L 322.44,266.52 L 310.33,266.52 L 310.33,232.41 L 302.78,235.52 Z"/><path d="M 434.00,228.50 L 446.22,223.50 L 456.44,223.50 L 456.44,268.72 L 444.33,268.72 L 444.33,234.61 L 436.78,237.72 Z"/><path fill-rule="evenodd" d="M460.90,246.30a19.45,23.5 0 1 0 38.9,0a19.45,23.5 0 1 0 -38.9,0ZM472.55,246.30a7.8,12.55 0 1 0 15.6,0a7.8,12.55 0 1 0 -15.6,0Z"/><path d="M 593.00,226.50 L 605.22,221.50 L 615.44,221.50 L 615.44,266.72 L 603.33,266.72 L 603.33,232.61 L 595.78,235.72 Z"/><path d="M 620.00,226.50 L 632.22,221.50 L 642.44,221.50 L 642.44,266.72 L 630.33,266.72 L 630.33,232.61 L 622.78,235.72 Z"/><path d="M 746.20,221.10 L 775.76,221.10 L 775.76,230.66 L 769.31,239.54 C 774.87,241.43 778.20,246.43 778.20,251.99 C 778.20,260.88 771.53,267.21 761.76,267.21 C 754.31,267.21 748.20,263.10 745.20,257.32 L 755.76,251.10 C 757.09,254.77 759.31,256.43 761.76,256.43 C 764.64,256.43 766.20,254.21 766.20,251.43 C 766.20,248.10 763.76,245.88 759.87,245.88 L 758.20,245.88 L 754.64,241.43 L 759.87,232.21 L 746.20,232.21 Z"/><path d="M 780.20,230.08 C 783.76,223.41 789.31,220.30 796.53,220.30 C 805.98,220.30 812.09,226.19 812.09,234.52 C 812.09,240.08 809.87,243.97 804.87,248.97 L 798.20,255.63 L 812.64,255.63 L 812.64,266.41 L 780.98,266.41 L 780.98,257.86 L 796.53,242.30 C 799.87,238.97 800.98,237.30 800.98,235.08 C 800.98,232.30 799.09,230.63 796.53,230.63 C 793.76,230.63 791.53,232.86 790.09,236.19 Z"/><path d="M 901.84,222.20 L 928.18,222.20 L 928.18,233.09 L 912.62,233.09 L 911.96,239.76 C 913.73,239.31 915.73,239.09 917.73,239.09 C 925.73,239.09 930.84,245.31 930.84,253.31 C 930.84,261.98 924.07,268.64 914.62,268.64 C 906.84,268.64 900.73,264.76 897.40,258.64 L 907.73,252.53 C 909.07,255.87 911.51,257.76 914.62,257.76 C 917.73,257.76 919.62,255.53 919.62,252.87 C 919.62,249.76 917.40,248.09 914.40,248.09 C 911.84,248.09 909.62,249.20 907.96,250.87 L 899.62,248.64 Z"/><path d="M 934.00,222.20 L 963.56,222.20 L 963.56,231.76 L 957.11,240.64 C 962.67,242.53 966.00,247.53 966.00,253.09 C 966.00,261.98 959.33,268.31 949.56,268.31 C 942.11,268.31 936.00,264.20 933.00,258.42 L 943.56,252.20 C 944.89,255.87 947.11,257.53 949.56,257.53 C 952.44,257.53 954.00,255.31 954.00,252.53 C 954.00,249.20 951.56,246.98 947.67,246.98 L 946.00,246.98 L 942.44,242.53 L 947.67,233.31 L 934.00,233.31 Z"/></g>
<!-- axes -->
<g font-size="12" fill="#5a5a5a"><text x="62.80" y="488.1" textLength="7.60" lengthAdjust="spacingAndGlyphs">0</text><text x="47.50" y="454.1" textLength="22.90" lengthAdjust="spacingAndGlyphs">100</text><text x="47.50" y="420.0" textLength="22.90" lengthAdjust="spacingAndGlyphs">200</text><text x="47.50" y="386.0" textLength="22.90" lengthAdjust="spacingAndGlyphs">300</text><text x="47.50" y="351.9" textLength="22.90" lengthAdjust="spacingAndGlyphs">400</text><text x="47.50" y="317.9" textLength="22.90" lengthAdjust="spacingAndGlyphs">500</text><text x="47.50" y="283.8" textLength="22.90" lengthAdjust="spacingAndGlyphs">600</text><text x="47.50" y="249.8" textLength="22.90" lengthAdjust="spacingAndGlyphs">700</text><text x="47.50" y="215.7" textLength="22.90" lengthAdjust="spacingAndGlyphs">800</text><text x="47.50" y="181.7" textLength="22.90" lengthAdjust="spacingAndGlyphs">900</text><text x="42.50" y="147.7" textLength="27.90" lengthAdjust="spacingAndGlyphs">1000</text></g>
<g font-size="12" fill="#333"><text x="76.6" y="507.6" textLength="27.4" lengthAdjust="spacingAndGlyphs">2010</text><text x="218.6" y="507.6" textLength="26.5" lengthAdjust="spacingAndGlyphs">2012</text><text x="373.5" y="507.6" textLength="26.7" lengthAdjust="spacingAndGlyphs">2014</text><text x="529.5" y="507.6" textLength="25.9" lengthAdjust="spacingAndGlyphs">2016</text><text x="684.1" y="507.6" textLength="25.8" lengthAdjust="spacingAndGlyphs">2018</text><text x="836.4" y="507.6" textLength="30.3" lengthAdjust="spacingAndGlyphs">2020</text><text x="981.9" y="507.6" textLength="28.6" lengthAdjust="spacingAndGlyphs">2022</text></g>
<g stroke="#777" stroke-width="1.1" fill="#777">
<line x1="29.25" y1="148" x2="29.25" y2="240"/><path d="M29.25,143.5l3.4,6.8h-6.8z" stroke="none"/>
<line x1="29.25" y1="374.5" x2="29.25" y2="485.5"/><circle cx="29.25" cy="485.6" r="3" stroke="none"/>
<line x1="84" y1="523.8" x2="453" y2="523.8"/><circle cx="84" cy="523.8" r="3" stroke="none"/>
<line x1="634" y1="523.8" x2="1000" y2="523.8"/><path d="M1005.6,523.8l-7,-3.3v6.6z" stroke="none"/>
</g>
<text transform="translate(33.2,365) rotate(-90)" font-size="12" fill="#222" textLength="114" lengthAdjust="spacingAndGlyphs">USD$ Million Raised</text>
<text x="465.2" y="528" font-size="12.3" fill="#222" textLength="156.3" lengthAdjust="spacingAndGlyphs">The Mega Round Decade+</text>
<text x="21.6" y="560.3" font-size="13" fill="#333" textLength="208.5" lengthAdjust="spacingAndGlyphs">Source: HolonIQ as at 25 June 2021</text>
</svg>
</body></html>
